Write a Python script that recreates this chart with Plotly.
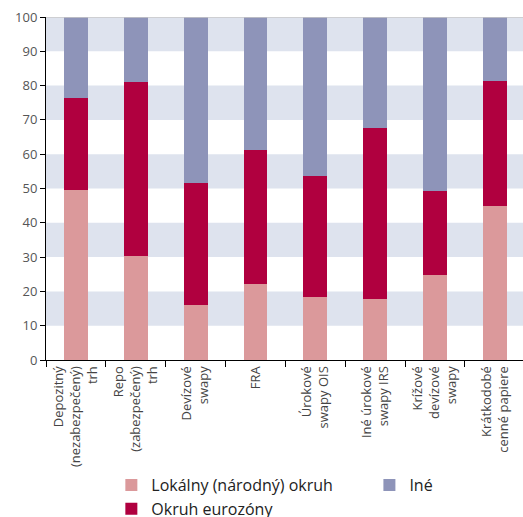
import plotly.graph_objects as go

categories = [
    "Depozitný<br>(nezabezpečený)<br>trh",
    "Repo<br>(zabezpečený)<br>trh",
    "Devízové<br>swapy",
    "FRA",
    "Úrokové<br>swapy OIS",
    "Iné úrokové<br>swapy IRS",
    "Krížové<br>devízové<br>swapy",
    "Krátkodobé<br>cenné papiere",
]
lokalny = [49.6, 30.3, 16.0, 22.2, 18.4, 17.8, 24.8, 44.9]
eurozona = [26.8, 50.7, 35.6, 39.0, 35.2, 49.8, 24.5, 36.4]
ine = [23.6, 19.0, 48.4, 38.8, 46.4, 32.4, 50.7, 18.7]

series = [
    ("Lokálny (národný) okruh", lokalny, "#db999b", "legend"),
    ("Okruh eurozóny", eurozona, "#b0003f", "legend"),
    ("Iné", ine, "#8e94b9", "legend2"),
]

fig = go.Figure()
for name, vals, color, leg in series:
    fig.add_trace(go.Bar(
        x=categories, y=vals, name=name, marker_color=color,
        marker_line_width=0, width=0.4, legend=leg,
    ))

# alternating horizontal bands behind the bars
for lo in range(10, 100, 20):
    fig.add_shape(type="rect", xref="paper", yref="y", x0=0, x1=1,
                  y0=lo, y1=lo + 10, fillcolor="#dee3ee", line_width=0,
                  layer="below")
fig.add_shape(type="line", xref="paper", yref="y", x0=0, x1=1, y0=100, y1=100,
              line=dict(color="#c8c8c8", width=1.5))

legend_style = dict(
    orientation="v", xanchor="left", yanchor="top",
    font=dict(size=16, color="#222"), tracegroupgap=0,
    traceorder="normal", bgcolor="rgba(0,0,0,0)", itemwidth=30,
)

fig.update_layout(
    width=523, height=517,
    margin=dict(l=46, r=0, t=17, b=157, autoexpand=False),
    barmode="stack",
    plot_bgcolor="white", paper_bgcolor="white",
    font=dict(family="Open Sans", color="#444"),
    showlegend=True,
    legend=dict(x=0.137, y=-0.315, **legend_style),
    legend2=dict(x=0.678, y=-0.315, **legend_style),
    xaxis=dict(
        range=[-0.5, 7.47], tickangle=-90, tickson="boundaries",
        ticks="outside", ticklen=6, tickcolor="#000",
        showline=True, linecolor="#000", linewidth=1,
        showgrid=False, tickfont=dict(size=13, color="#444"),
    ),
    yaxis=dict(
        range=[0, 100], tickvals=list(range(0, 101, 10)),
        ticks="outside", ticklen=5, tickcolor="#000",
        showline=True, linecolor="#000", linewidth=1,
        showgrid=False, zeroline=False,
        tickfont=dict(size=13, color="#555"),
    ),
)

fig.write_html("out.html")
